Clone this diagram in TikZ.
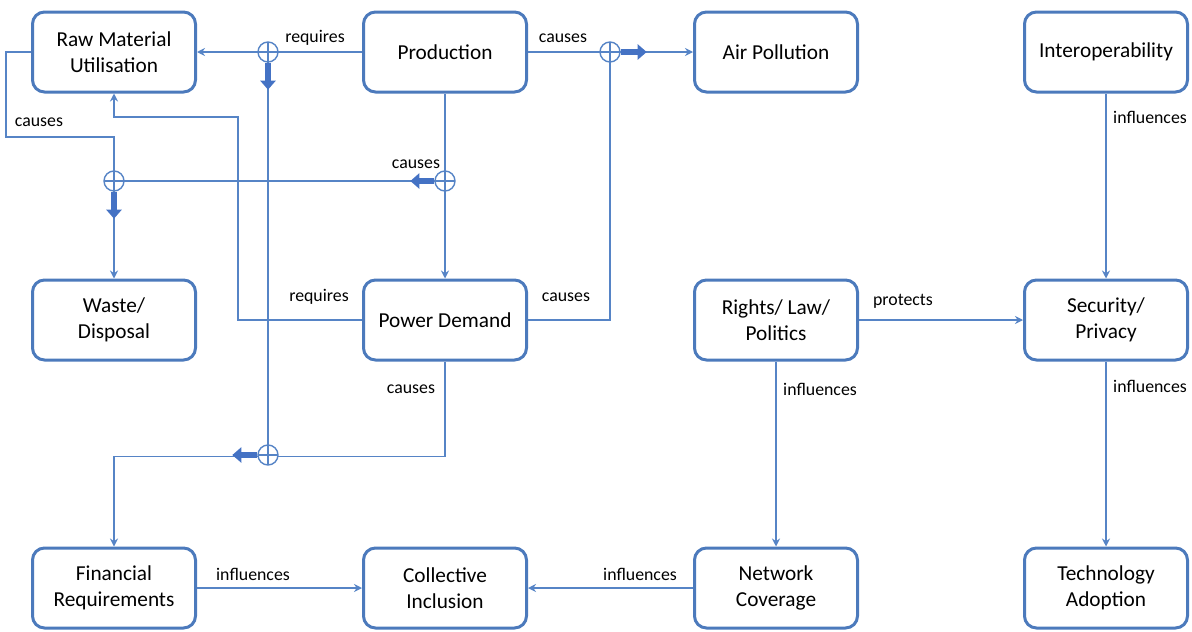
\documentclass[tikz,border=0pt]{standalone}
\usepackage{fontspec}
\setmainfont{Carlito}
\usetikzlibrary{arrows.meta}

\definecolor{boxblue}{RGB}{76,122,188}
\definecolor{lineblue}{RGB}{86,132,198}
\definecolor{flowblue}{RGB}{68,114,196}

\tikzset{
  block/.style={draw=boxblue, line width=3pt, rounded corners=12pt, fill=white,
    minimum width=163pt, minimum height=80pt, align=center,
    font=\fontsize{21.3}{25.5}\selectfont},
  conn/.style={draw=lineblue, line width=1.4pt},
  arr/.style={-{Stealth[length=8pt,width=8pt]}},
  lbl/.style={font=\fontsize{17.8}{20}\selectfont, inner sep=0pt},
  junction/.style={circle, draw=lineblue, line width=1.4pt, fill=white,
    minimum size=20pt, inner sep=0pt,
    path picture={\draw[lineblue, line width=1.4pt]
      (path picture bounding box.north) -- (path picture bounding box.south)
      (path picture bounding box.west) -- (path picture bounding box.east);}},
  flow/.style={draw=flowblue, line width=6pt,
    -{Triangle[length=9pt,width=15pt]}},
}

\begin{document}
\begin{tikzpicture}[x=1pt,y=-1pt]
\useasboundingbox (0,0) rectangle (1192,632);

% boxes
\node[block] (raw)    at (114,52)   {Raw Material\\Utilisation};
\node[block] (prod)   at (445,52)   {Production};
\node[block] (air)    at (776,52)   {Air Pollution};
\node[block] (inter)  at (1106,52)  {Interoperability};
\node[block] (waste)  at (114,320)  {Waste/\\Disposal};
\node[block] (power)  at (445,320)  {Power Demand};
\node[block] (rights) at (776,320)  {Rights/ Law/\\Politics};
\node[block] (sec)    at (1106,320) {Security/\\Privacy};
\node[block] (fin)    at (114,588)  {Financial\\Requirements};
\node[block] (coll)   at (445,588)  {Collective\\Inclusion};
\node[block] (net)    at (776,588)  {Network\\Coverage};
\node[block] (tech)   at (1106,588) {Technology\\Adoption};

% junction positions
\coordinate (cr) at (268,52);
\coordinate (ca) at (610,52);
\coordinate (cp) at (445,181);
\coordinate (cw) at (114,181);
\coordinate (cf) at (268,455);

% connectors
\draw[conn,arr] (prod.west) -- (raw.east);
\draw[conn] (cr) -- (cf);
\draw[conn,arr] (prod.east) -- (air.west);
\draw[conn] (power.east) -| (ca);
\draw[conn,arr] (prod.south) -- (power.north);
\draw[conn] (cp) -- (cw);
\draw[conn,arr] (raw.west) -- ++(-25,0) -- ++(0,85) -| (waste.north);
\draw[conn,arr] (power.west) -- ++(-124,0) -- ++(0,-203) -| (raw.south);
\draw[conn,arr] (power.south) -- ++(0,95) -| (fin.north);
\draw[conn,arr] (fin.east) -- (coll.west);
\draw[conn,arr] (net.west) -- (coll.east);
\draw[conn,arr] (rights.south) -- (net.north);
\draw[conn,arr] (rights.east) -- (sec.west);
\draw[conn,arr] (inter.south) -- (sec.north);
\draw[conn,arr] (sec.south) -- (tech.north);

% summing junctions
\node[junction] (jr) at (cr) {};
\node[junction] (ja) at (ca) {};
\node[junction] (jp) at (cp) {};
\node[junction] (jw) at (cw) {};
\node[junction] (jf) at (cf) {};

% flow arrows leaving the junctions
\draw[flow] (jr.south) -- ++(0,27);
\draw[flow] (ja.east) -- ++(26,0);
\draw[flow] (jp.west) -- ++(-24,0);
\draw[flow] (jw.south) -- ++(0,27);
\draw[flow] (jf.west) -- ++(-25,0);

% labels
\node[lbl] (l1)  at (315,38)   {requires};
\node[lbl] (l2)  at (563,38)   {causes};
\node[lbl] (l3)  at (416,164)  {causes};
\node[lbl] (l4)  at (39,122)   {causes};
\node[lbl] (l5)  at (319,297)  {requires};
\node[lbl] (l6)  at (566,297)  {causes};
\node[lbl] (l7)  at (411,389)  {causes};
\node[lbl] (l8)  at (253,574)  {influences};
\node[lbl] (l9)  at (640,574)  {influences};
\node[lbl] (l10) at (820,389)  {influences};
\node[lbl] (l11) at (903,301)  {protects};
\node[lbl] (l12) at (1150,117) {influences};
\node[lbl] (l13) at (1150,386) {influences};
\end{tikzpicture}
\end{document}
